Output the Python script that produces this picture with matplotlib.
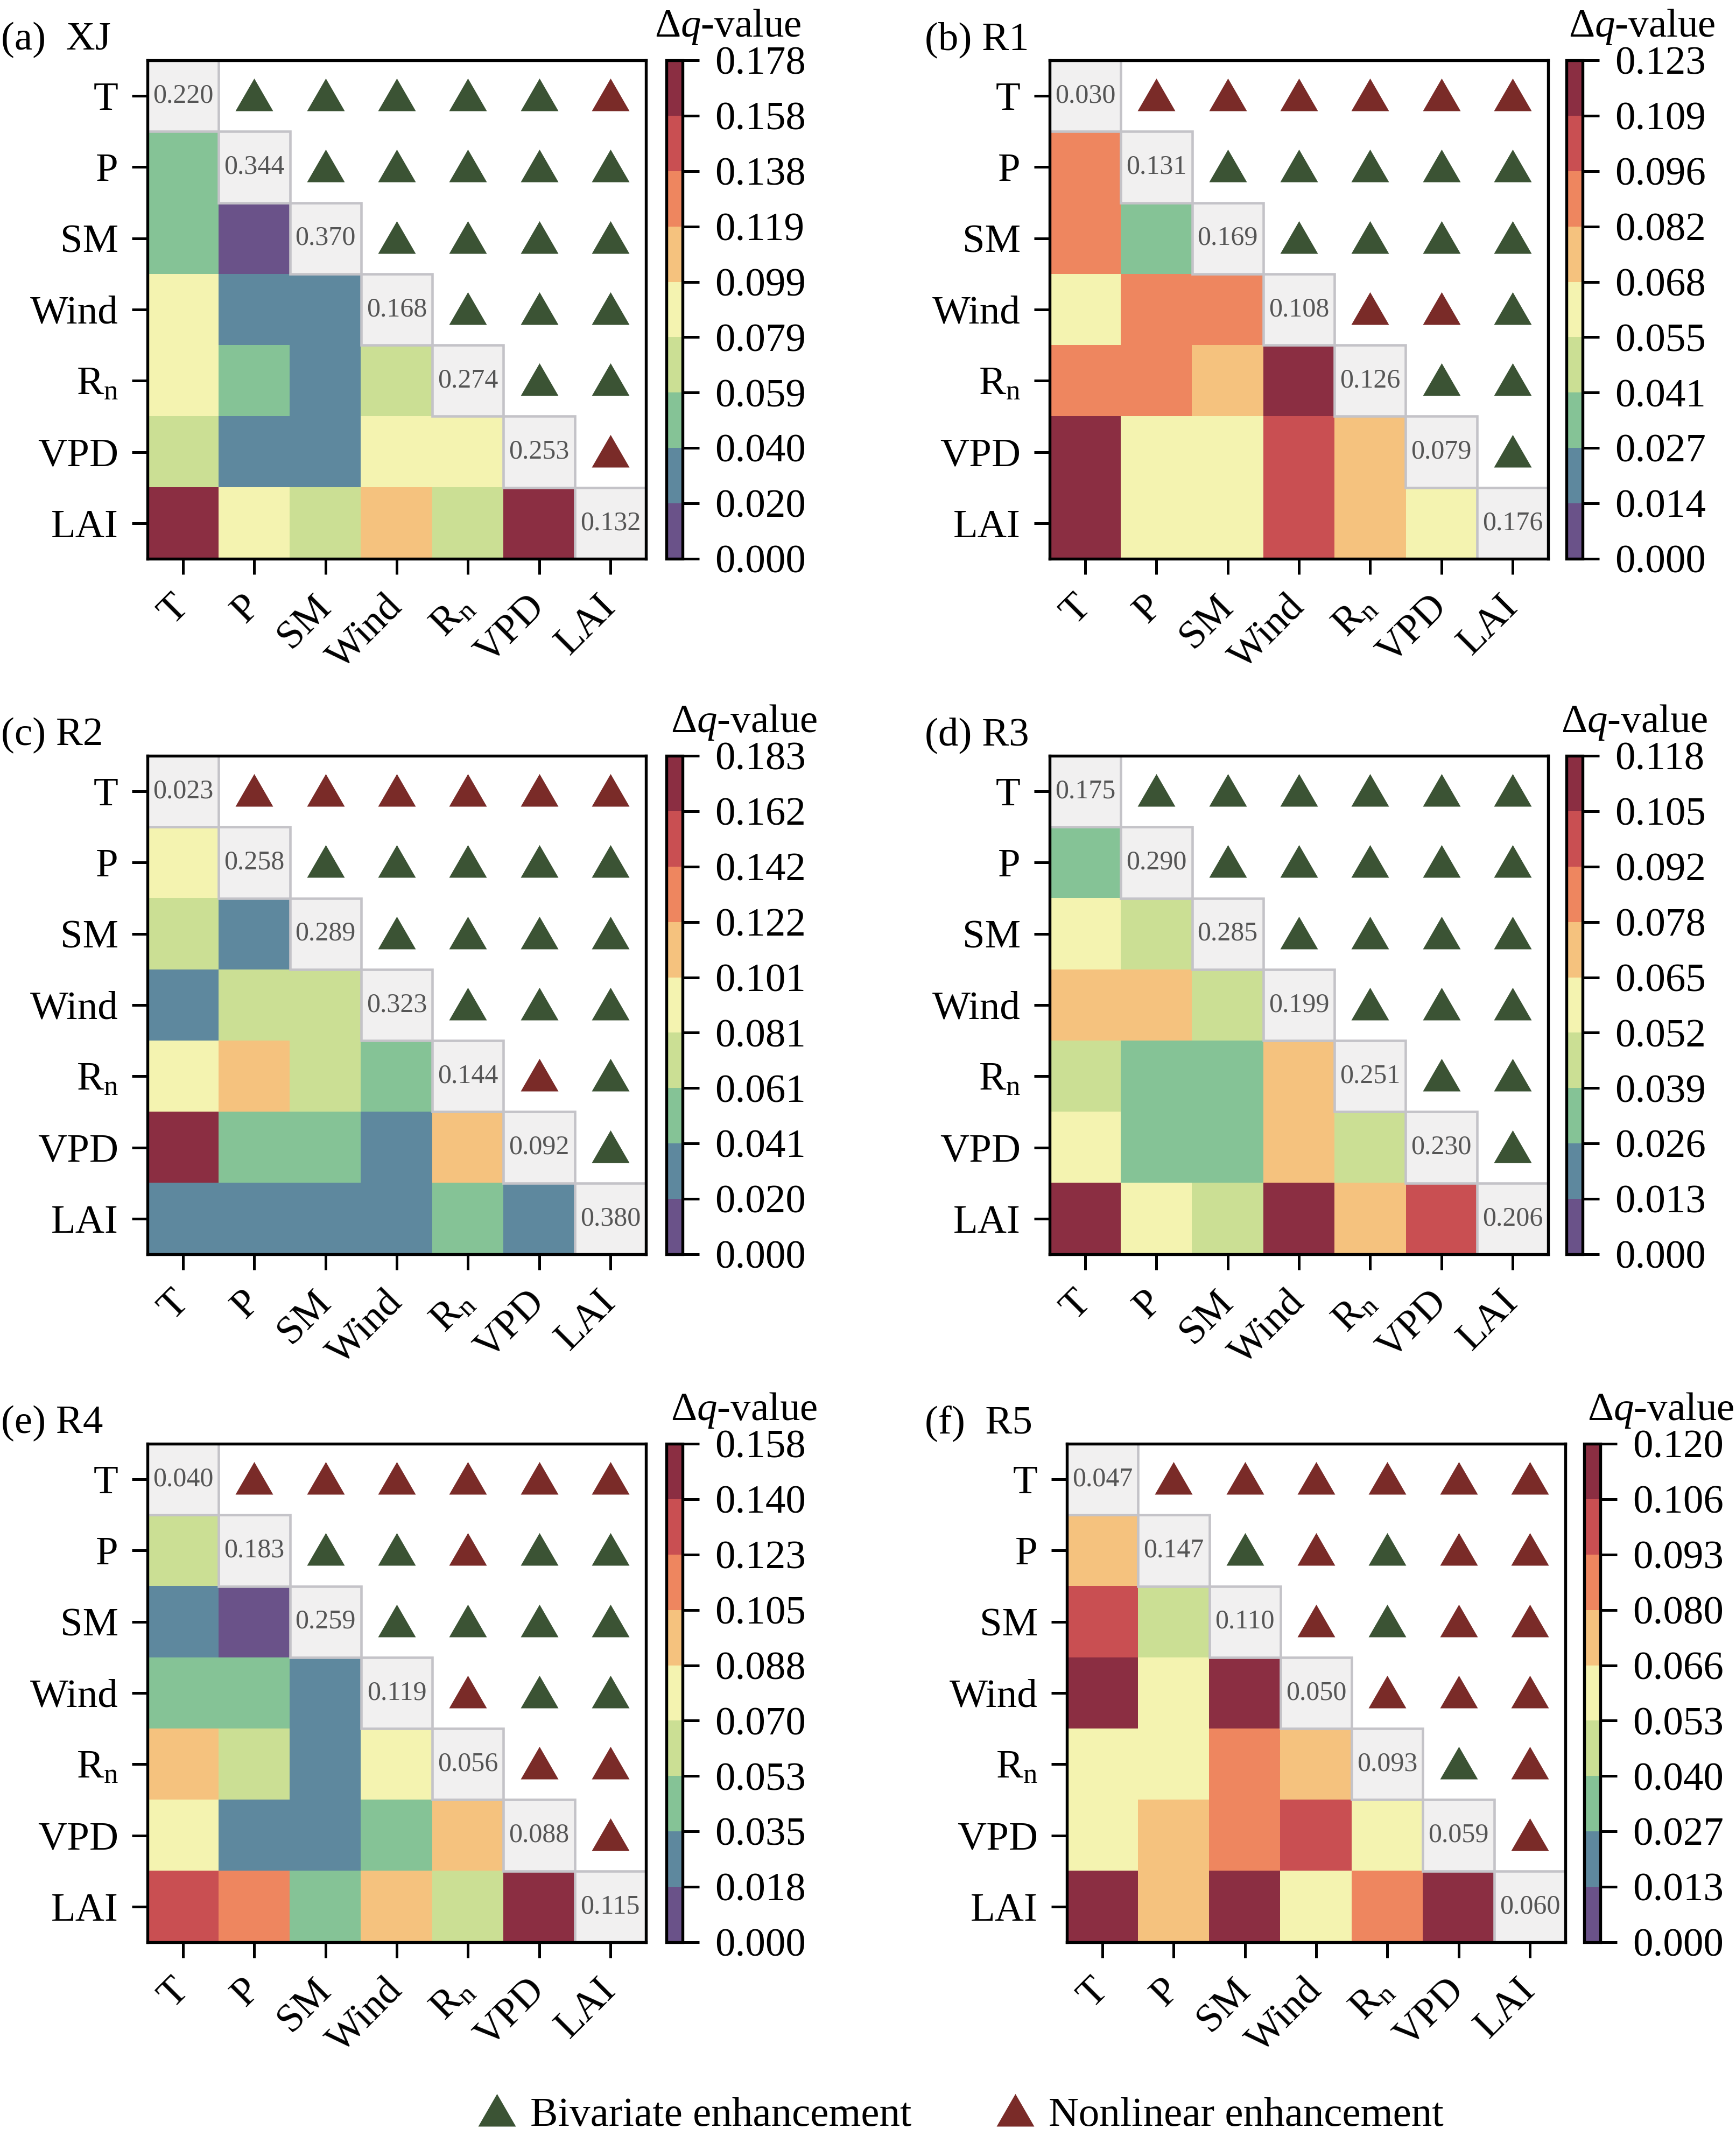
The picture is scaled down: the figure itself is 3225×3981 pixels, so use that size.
import numpy as np
import matplotlib
matplotlib.use('Agg')
import matplotlib.pyplot as plt
from matplotlib.colors import ListedColormap, BoundaryNorm
from matplotlib.patches import Rectangle
from matplotlib.lines import Line2D
from matplotlib.markers import MarkerStyle
from matplotlib.transforms import ScaledTranslation
import matplotlib.cm as cm

plt.rcParams['font.family'] = ['Liberation Serif', 'DejaVu Serif']
plt.rcParams['mathtext.fontset'] = 'custom'
plt.rcParams['mathtext.rm'] = 'Liberation Serif'
plt.rcParams['mathtext.it'] = 'Liberation Serif:italic'

# ---------------- data ----------------
factors = ['T', 'P', 'SM', 'Wind', r'$\mathrm{R_n}$', 'VPD', 'LAI']
panel_titles = ['(a)  XJ', '(b) R1', '(c) R2', '(d) R3', '(e) R4', '(f)  R5']

# lower-triangle interaction delta-q values (row i, columns 0..i-1)
lower_a = [[0.049],
           [0.049, 0.010],
           [0.089, 0.030, 0.030],
           [0.089, 0.049, 0.030, 0.069],
           [0.069, 0.030, 0.030, 0.089, 0.089],
           [0.168, 0.089, 0.069, 0.109, 0.069, 0.168]]
lower_b = [[0.089],
           [0.089, 0.034],
           [0.062, 0.089, 0.089],
           [0.089, 0.089, 0.075, 0.116],
           [0.116, 0.062, 0.062, 0.103, 0.075],
           [0.116, 0.062, 0.062, 0.103, 0.075, 0.062]]
lower_c = [[0.091],
           [0.071, 0.030],
           [0.030, 0.071, 0.071],
           [0.091, 0.112, 0.071, 0.051],
           [0.172, 0.051, 0.051, 0.030, 0.112],
           [0.030, 0.030, 0.030, 0.030, 0.051, 0.030]]
lower_d = [[0.033],
           [0.059, 0.046],
           [0.072, 0.072, 0.046],
           [0.046, 0.033, 0.033, 0.072],
           [0.059, 0.033, 0.033, 0.072, 0.046],
           [0.111, 0.059, 0.046, 0.111, 0.072, 0.098]]
lower_e = [[0.061],
           [0.026, 0.009],
           [0.044, 0.044, 0.026],
           [0.097, 0.061, 0.026, 0.079],
           [0.079, 0.026, 0.026, 0.044, 0.097],
           [0.132, 0.114, 0.044, 0.097, 0.061, 0.149]]
lower_f = [[0.073],
           [0.100, 0.047],
           [0.113, 0.060, 0.113],
           [0.060, 0.060, 0.086, 0.073],
           [0.060, 0.073, 0.086, 0.100, 0.060],
           [0.113, 0.073, 0.113, 0.060, 0.086, 0.113]]

# single-factor q-values on the diagonal
diag_a = [0.220, 0.344, 0.370, 0.168, 0.274, 0.253, 0.132]
diag_b = [0.030, 0.131, 0.169, 0.108, 0.126, 0.079, 0.176]
diag_c = [0.023, 0.258, 0.289, 0.323, 0.144, 0.092, 0.380]
diag_d = [0.175, 0.290, 0.285, 0.199, 0.251, 0.230, 0.206]
diag_e = [0.040, 0.183, 0.259, 0.119, 0.056, 0.088, 0.115]
diag_f = [0.047, 0.147, 0.110, 0.050, 0.093, 0.059, 0.060]

# interaction type in upper triangle (row i, columns i+1..6): B = bivariate, N = nonlinear
upper_a = ['BBBBBN', 'BBBBB', 'BBBB', 'BBB', 'BB', 'N']
upper_b = ['NNNNNN', 'BBBBB', 'BBBB', 'NNB', 'BB', 'B']
upper_c = ['NNNNNN', 'BBBBB', 'BBBB', 'BBB', 'NB', 'B']
upper_d = ['BBBBBB', 'BBBBB', 'BBBB', 'BBB', 'BB', 'B']
upper_e = ['NNNNNN', 'BBNBB', 'BBBB', 'NBB', 'NN', 'N']
upper_f = ['NNNNNN', 'BNBNN', 'NBNN', 'NNN', 'BN', 'N']

# colorbar maxima and tick labels
vmax_list = [0.178, 0.123, 0.1826, 0.11768, 0.158, 0.11961]
cbar_labels_a = ['0.000', '0.020', '0.040', '0.059', '0.079', '0.099', '0.119', '0.138', '0.158', '0.178']
cbar_labels_b = ['0.000', '0.014', '0.027', '0.041', '0.055', '0.068', '0.082', '0.096', '0.109', '0.123']
cbar_labels_c = ['0.000', '0.020', '0.041', '0.061', '0.081', '0.101', '0.122', '0.142', '0.162', '0.183']
cbar_labels_d = ['0.000', '0.013', '0.026', '0.039', '0.052', '0.065', '0.078', '0.092', '0.105', '0.118']
cbar_labels_e = ['0.000', '0.018', '0.035', '0.053', '0.070', '0.088', '0.105', '0.123', '0.140', '0.158']
cbar_labels_f = ['0.000', '0.013', '0.027', '0.040', '0.053', '0.066', '0.080', '0.093', '0.106', '0.120']

legend_labels = ['Bivariate enhancement', 'Nonlinear enhancement']

# ---------------- style ----------------
palette = ['#6a5289', '#5e889e', '#85c396', '#cbdf94', '#f4f3b0',
           '#f5c27e', '#ee865f', '#c94f52', '#8b2e42']
tri_colors = {'B': '#3b5334', 'N': '#7a2b28'}
diag_face = '#f1f0f0'
diag_edge = '#c4c3c8'

W, H = 3225, 3981
DPI = 300
fig = plt.figure(figsize=(W / DPI, H / DPI), dpi=DPI)

panels = [
    (lower_a, diag_a, upper_a, cbar_labels_a),
    (lower_b, diag_b, upper_b, cbar_labels_b),
    (lower_c, diag_c, upper_c, cbar_labels_c),
    (lower_d, diag_d, upper_d, cbar_labels_d),
    (lower_e, diag_e, upper_e, cbar_labels_e),
    (lower_f, diag_f, upper_f, cbar_labels_f),
]

# layout in pixels: (heatmap left, top, colorbar left, dq-label center x, title x)
layout = [
    (274, 112, 1238, 1352, 2),
    (1950, 112, 2910, 3050, 1718),
    (274, 1404, 1238, 1382, 2),
    (1950, 1404, 2910, 3036, 1718),
    (274, 2682, 1238, 1382, 2),
    (1982, 2682, 2943, 3085, 1718),
]
SIDE = 926
CBW = 30
FS = 18

# equilateral triangle, nudged slightly above the cell centre
tri_verts = [(-0.5, -0.40), (0.5, -0.40), (0.0, 0.466), (-0.5, -0.40)]
tri_marker = MarkerStyle(tri_verts)
ms = 16.8

cmap = ListedColormap(palette)
xoff = ScaledTranslation(5 / 72, -2 / 72, fig.dpi_scale_trans)

for k, (lower, diag, upper, cbl) in enumerate(panels):
    lx, ty, cbx, dqx, tx = layout[k]
    ax = fig.add_axes([lx / W, 1 - (ty + SIDE) / H, SIDE / W, SIDE / H])
    cax = fig.add_axes([cbx / W, 1 - (ty + SIDE) / H, CBW / W, SIDE / H])
    vmax = vmax_list[k]
    bounds = np.linspace(0, vmax, 10)
    norm = BoundaryNorm(bounds, cmap.N)

    n = len(factors)
    mat = np.full((n, n), np.nan)
    for i, row in enumerate(lower):
        for j, v in enumerate(row):
            mat[i + 1, j] = v
    ax.imshow(np.ma.masked_invalid(mat), cmap=cmap, norm=norm,
              interpolation='nearest', aspect='auto', zorder=1)

    for i in range(n):
        ax.add_patch(Rectangle((i - 0.5, i - 0.5), 1, 1, facecolor=diag_face,
                               edgecolor=diag_edge, linewidth=1.1, zorder=2))
        ax.text(i, i, f'{diag[i]:.3f}', ha='center', va='center',
                fontsize=12, color='#555555', zorder=3)

    for i, row in enumerate(upper):
        for jj, t in enumerate(row):
            j = i + 1 + jj
            ax.plot(j, i, linestyle='none', marker=tri_marker, markersize=ms,
                    color=tri_colors[t], markeredgewidth=0, zorder=3)

    ax.set_xlim(-0.5, n - 0.5)
    ax.set_ylim(n - 0.5, -0.5)
    ax.set_xticks(range(n))
    ax.set_yticks(range(n))
    ax.set_yticklabels(factors, fontsize=FS)
    ax.set_xticklabels(factors, fontsize=FS, rotation=45, ha='right',
                       va='center', rotation_mode='anchor')
    for lab in ax.get_xticklabels():
        lab.set_transform(lab.get_transform() + xoff)
    ax.tick_params(axis='both', length=7, width=1.2, direction='out', pad=6)
    ax.tick_params(axis='x', pad=12)
    for sp in ax.spines.values():
        sp.set_linewidth(1.3)
        sp.set_zorder(5)

    sm = cm.ScalarMappable(norm=norm, cmap=cmap)
    cb = fig.colorbar(sm, cax=cax, ticks=bounds, spacing='uniform')
    cb.ax.set_yticklabels(cbl, fontsize=FS)
    cb.ax.tick_params(length=7.4, width=1.2, pad=7)
    cb.outline.set_linewidth(1.3)

    fig.text(dqx / W, 1 - (ty - 62) / H, r'Δ$\mathit{q}$-value', ha='center',
             va='center', fontsize=FS)
    fig.text(tx / W, 1 - (ty - 38) / H, panel_titles[k], ha='left',
             va='center', fontsize=FS)

handles = [Line2D([], [], linestyle='none', marker=tri_marker, markersize=ms,
                  color=tri_colors['B'], markeredgewidth=0),
           Line2D([], [], linestyle='none', marker=tri_marker, markersize=ms,
                  color=tri_colors['N'], markeredgewidth=0)]
fig.legend(handles, legend_labels, loc='center', bbox_to_anchor=(1783 / W, 1 - 3930 / H),
           ncol=2, frameon=False, fontsize=18.5, handletextpad=0.3,
           columnspacing=2.0, handlelength=1.0)

fig.savefig('out.png', dpi=DPI)
